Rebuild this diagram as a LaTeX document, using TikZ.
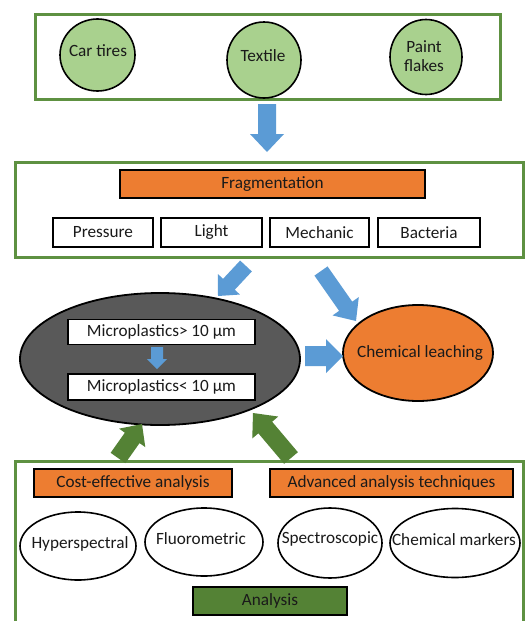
\documentclass[tikz,border=0pt]{standalone}
\usepackage{fontspec}
\setmainfont{Carlito}
\usetikzlibrary{calc,shapes.geometric}
\definecolor{gborder}{HTML}{5E9141}
\definecolor{lgreen}{HTML}{A9D18E}
\definecolor{orng}{HTML}{ED7D31}
\definecolor{blu}{HTML}{5B9BD5}
\definecolor{dgreen}{HTML}{548235}
\definecolor{grayfill}{HTML}{595959}
\definecolor{txt}{HTML}{1A1A1A}
\newcommand\fsz{\fontsize{17.2}{19}\selectfont}
% block arrow: colour, tail, tip, shaft half width, head half width, head length
\newcommand\blkarrow[6]{%
  \path coordinate (hb) at ($(#3)!#6!(#2)$);
  \fill[#1] ($(#2)!#4!90:(#3)$) -- ($(hb)!#4!-90:(#2)$) -- ($(hb)!#5!-90:(#2)$)
    -- (#3) -- ($(hb)!#5!90:(#2)$) -- ($(hb)!#4!90:(#2)$) -- ($(#2)!#4!-90:(#3)$) -- cycle;
}
\tikzset{
  container/.style={rectangle, draw=gborder, line width=3pt, inner sep=0pt},
  srccircle/.style={ellipse, draw=black, line width=1.6pt, fill=lgreen, inner sep=0pt},
  orangebar/.style={rectangle, draw=black, line width=1.6pt, fill=orng, inner sep=0pt, text=txt, font=\fsz},
  whitebox/.style={rectangle, draw=black, line width=1.6pt, fill=white, inner sep=0pt, text=txt, font=\fsz},
  oval/.style={ellipse, draw=black, line width=1.6pt, fill=white, inner sep=0pt},
  lbl/.style={inner sep=0pt, text=txt, font=\fsz, align=center},
}
\begin{document}
\begin{tikzpicture}[x=1pt,y=-1pt]
\useasboundingbox (0,0) rectangle (528,621);
\clip (0,0) rectangle (528,621);
\fill[white] (0,0) rectangle (528,621);

% top container
\node[container, minimum width=465pt, minimum height=85pt] (top) at (267.5,56.5) {};
\node[srccircle, minimum width=75pt, minimum height=72pt] (car) at (97.5,55) {};
\node[srccircle, minimum width=74pt, minimum height=76pt] (tex) at (264,60) {};
\node[srccircle, minimum width=72pt, minimum height=75pt] (paint) at (426,57) {};
\node[lbl] (cart) at (98,51) {Car tires};
\node[lbl] (text) at (263,56) {Textile};
\node[lbl] (paintt) at (424,56) {Paint\\flakes};

% middle container
\node[container, minimum width=508pt, minimum height=95pt] (mid) at (269,209.5) {};
\node[orangebar, minimum width=305pt, minimum height=28pt] (frag) at (272.5,184) {Fragmentation};
\node[whitebox, minimum width=100pt, minimum height=29pt] (press) at (103,232.5) {Pressure};
\node[whitebox, minimum width=101pt, minimum height=29pt] (light) at (211.5,232.5) {Light};
\node[whitebox, minimum width=99pt, minimum height=29pt] (mech) at (319.5,232.5) {Mechanic};
\node[whitebox, minimum width=102pt, minimum height=29pt] (bact) at (429,232.5) {Bacteria};

% microplastics
\node[ellipse, draw=black, line width=1.8pt, fill=grayfill, minimum width=280pt, minimum height=132pt, inner sep=0pt] (micro) at (160,359) {};
\node[whitebox, line width=1.2pt, minimum width=187pt, minimum height=25pt] (big) at (161.5,332) {Microplastics> 10 µm};
\node[whitebox, line width=1.2pt, minimum width=187pt, minimum height=26pt] (small) at (161.5,387) {Microplastics< 10 µm};
\node[ellipse, draw=black, line width=1.8pt, fill=orng, minimum width=150pt, minimum height=96pt, inner sep=0pt] (leach) at (418,353) {};
\node[lbl] (leacht) at (420,353) {Chemical leaching};

% bottom container
\node[container, minimum width=508pt, minimum height=170pt] (bot) at (269,546) {};
\node[orangebar, minimum width=198pt, minimum height=28pt] (cost) at (133,483) {Cost-effective analysis};
\node[orangebar, minimum width=243pt, minimum height=28pt] (adv) at (391.5,483) {Advanced analysis techniques};
\node[oval, minimum width=116pt, minimum height=68pt] (hyper) at (78,546) {};
\node[oval, minimum width=118pt, minimum height=68pt] (fluo) at (204,542) {};
\node[oval, minimum width=104pt, minimum height=70pt] (spec) at (330,543) {};
\node[oval, minimum width=130pt, minimum height=69pt] (chem) at (455,543) {};
\node[lbl] (hypert) at (80,544) {Hyperspectral};
\node[lbl] (fluot) at (201,539) {Fluorometric};
\node[lbl] (spect) at (330,539) {Spectroscopic};
\node[lbl] (chemt) at (454,540) {Chemical markers};
\node[rectangle, draw=black, line width=1.6pt, fill=dgreen, minimum width=154pt, minimum height=28pt, inner sep=0pt, text=txt, font=\fsz] (ana) at (270,601) {Analysis};

% arrow end points
\coordinate (a1t) at (267,104);  \coordinate (a1h) at (267,152);
\coordinate (a2t) at (246,266);  \coordinate (a2h) at (218,296);
\coordinate (a3t) at (321,271);  \coordinate (a3h) at (356,321);
\coordinate (a4t) at (305,356);  \coordinate (a4h) at (343,356);
\coordinate (a5t) at (157,347);  \coordinate (a5h) at (157,369);
\coordinate (a6t) at (118,458);  \coordinate (a6h) at (142,424);
\coordinate (a7t) at (291,458);  \coordinate (a7h) at (253,413);

\blkarrow{blu}{a1t}{a1h}{9pt}{17pt}{18pt}
\blkarrow{blu}{a2t}{a2h}{8pt}{15pt}{16pt}
\blkarrow{blu}{a3t}{a3h}{8pt}{16pt}{18pt}
\blkarrow{blu}{a4t}{a4h}{10pt}{17pt}{17pt}
\blkarrow{blu}{a5t}{a5h}{6pt}{10pt}{10pt}
\blkarrow{dgreen}{a6t}{a6h}{9pt}{16pt}{17pt}
\blkarrow{dgreen}{a7t}{a7h}{9pt}{17pt}{19pt}
\end{tikzpicture}
\end{document}
